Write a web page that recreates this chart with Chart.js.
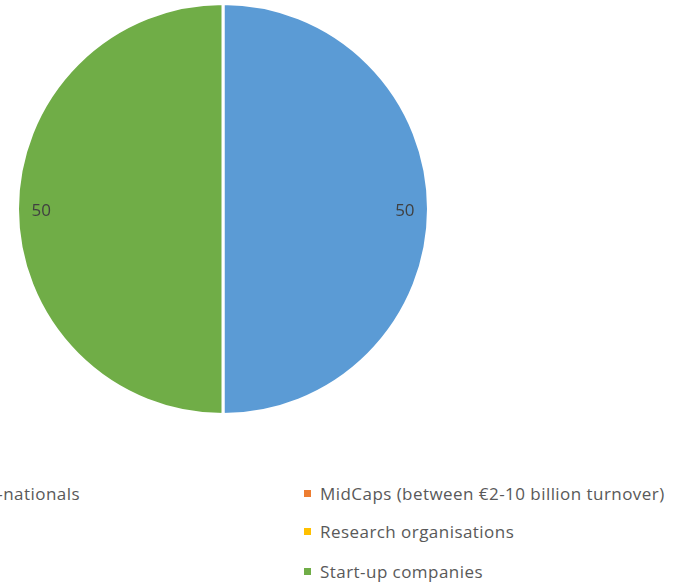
<!DOCTYPE html>
<html>
<head>
<meta charset="utf-8">
<title>Company types</title>
<script src="https://cdn.jsdelivr.net/npm/chart.js@4.4.1/dist/chart.umd.min.js"></script>
<style>
    html, body { margin: 0; padding: 0; background: #fff; }
    body { width: 686px; height: 583px; position: relative; overflow: hidden; font-family: "Open Sans", sans-serif; }
    .pie-wrap { position: absolute; left: 16px; top: 2px; width: 414px; height: 414px; }
    .legend-item { position: absolute; display: flex; align-items: center; white-space: nowrap; font-size: 17px; letter-spacing: 0.45px; color: #595959; }
    .legend-box { width: 7px; height: 7px; margin-right: 9px; flex: none; }
</style>
</head>
<body>
<div class="pie-wrap"><canvas id="pieChart"></canvas></div>
<div id="legend"></div>

<script>
// ========== DATA ==========
const categories = ['Multi-nationals', 'MidCaps (between €2-10 billion turnover)', 'Research organisations', 'Start-up companies'];
const values = [50, 0, 0, 50];
const colors = ['#5b9bd5', '#ed7d31', '#ffc000', '#70ad47'];

// legend slots: first entry sits in the left column (anchored by its right edge), the rest on the right
const legendSlots = [
    { right: 606, top: 493 },
    { left: 304, top: 493 },
    { left: 304, top: 531 },
    { left: 304, top: 571 }
];

// value labels near the outer edge of each slice
const insideEndLabels = {
    id: 'insideEndLabels',
    afterDatasetsDraw(chart) {
        const ctx = chart.ctx;
        const meta = chart.getDatasetMeta(0);
        ctx.save();
        ctx.font = '17px "Open Sans", sans-serif';
        ctx.fillStyle = '#404040';
        ctx.textAlign = 'center';
        ctx.textBaseline = 'middle';
        meta.data.forEach((arc, i) => {
            const v = chart.data.datasets[0].data[i];
            if (!v) return;
            const p = arc.getProps(['x', 'y', 'startAngle', 'endAngle', 'outerRadius'], true);
            const mid = (p.startAngle + p.endAngle) / 2;
            const r = p.outerRadius * 0.885;
            ctx.fillText(String(v), p.x + Math.cos(mid) * r, p.y + Math.sin(mid) * r + 2);
        });
        ctx.restore();
    }
};

function renderPie() {
    const canvas = document.getElementById('pieChart');
    const chart = new Chart(canvas, {
        type: 'pie',
        data: {
            labels: categories,
            datasets: [{
                data: values,
                backgroundColor: colors,
                borderColor: '#ffffff',
                borderWidth: 3
            }]
        },
        options: {
            responsive: true,
            maintainAspectRatio: false,
            animation: false,
            layout: { padding: 0 },
            plugins: {
                legend: { display: false },
                tooltip: { enabled: false }
            }
        },
        plugins: [insideEndLabels]
    });
    renderLegend(chart);
}

function renderLegend(chart) {
    const items = chart.options.plugins.legend.labels.generateLabels(chart);
    document.getElementById('legend').innerHTML = items.map((item, i) => {
        const slot = legendSlots[i];
        const pos = slot.right !== undefined ? `right:${slot.right}px` : `left:${slot.left}px`;
        return `
            <div class="legend-item" style="${pos}; top:${slot.top - 12}px; height:24px">
                <span class="legend-box" style="background:${item.fillStyle}"></span>
                <span>${item.text}</span>
            </div>
        `;
    }).join('');
}

renderPie();
</script>
</body>
</html>
